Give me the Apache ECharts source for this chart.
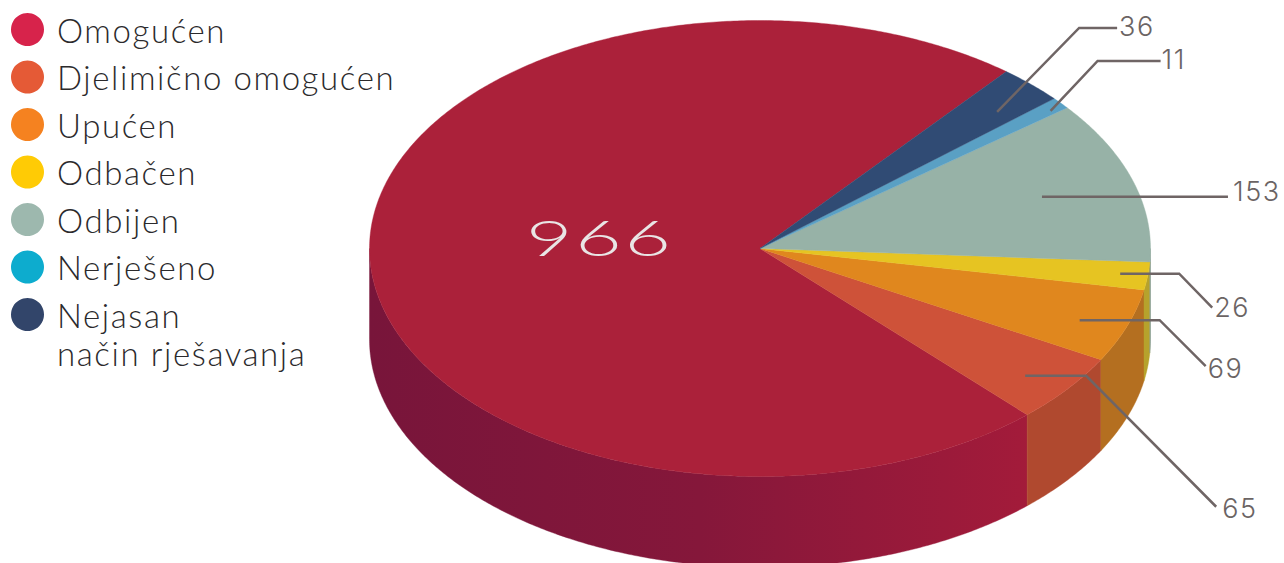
<!DOCTYPE html>
<html>
<head>
<meta charset="utf-8">
<style>
html,body{margin:0;padding:0;background:#fff;overflow:hidden}
#c{width:1284px;height:563px}
#c text{letter-spacing:1.6px}
</style>
<script src="https://cdn.jsdelivr.net/npm/echarts@6/dist/echarts.min.js"></script>
</head>
<body>
<div id="c"></div>
<script>
// Data
var categories = ['Omogućen','Djelimično omogućen','Upućen','Odbačen','Odbijen','Nerješeno','Nejasan'];
var values = [966,65,69,26,153,11,36];
var legendColors = ['#D7234B','#E55A36','#F58220','#FFCB05','#9DB8AE','#0DACCE','#32456A'];
var topColors = ['#AB213A','#CE5239','#E0871E','#E6C422','#97B2A7','#5AA0C4','#304B74'];
var sideColors = ['#A31B3A','#B0492F','#B46F20','#B6A22C','#7f958c','#4a86a5','#2b4265'];

// Layout of the tilted disc
var CX = 760, CY = 248.5, RX = 390.5, RY = 228, DEPTH = 91, START = 50.9;
var FONT = 'Lato', NUMFONT = 'Inter';
var TEXT = '#6B6464';
// Leader lines: anchor in its slice (angle offset from the slice middle, radial fraction),
// bends relative to the anchor, label position relative to the last bend
var leaders = [
  null,
  {da:-1.4, f:.879, bends:[[61,0],[191,131]],   label:[6,2]},
  {da:-1.2, f:.877, bends:[[80,0],[126,46]],    label:[2,2]},
  {da: 0.1, f:.929, bends:[[59,0],[92,34]],     label:[2,0]},
  {da: 0.1, f:.757, bends:[[186,0]],            label:[5,-5]},
  {da:-0.6, f:.958, bends:[[47,-50],[110,-50]], label:[1,-1]},
  {da:-1.4, f:.853, bends:[[82,-84],[120,-84]], label:[2,-1]}
];

var total = values.reduce(function(a,b){return a+b;},0);
function pt(deg, f, dy){
  var a = deg*Math.PI/180;
  return [CX + RX*f*Math.cos(a), CY - RY*f*Math.sin(a) + (dy||0)];
}
function arc(a0, a1, f, dy){
  var out = [], n = Math.max(2, Math.ceil(Math.abs(a1-a0)/0.5));
  for (var i=0;i<=n;i++) out.push(pt(a0+(a1-a0)*i/n, f, dy));
  return out;
}
function sliceStart(idx){
  var s = 0;
  for (var i=0;i<idx;i++) s += values[i];
  return START + s/total*360;
}
function textEl(str,x,y,size,fill,family,weight,extra){
  var el = {type:'text', x:x, y:y, z2:101, silent:true,
    style:{text:str, fill:fill, fontFamily:family, fontWeight:weight, fontSize:size, align:'left', verticalAlign:'middle'}};
  for (var k in extra) el[k] = extra[k];
  return el;
}

function render(idx){
  return function(params, api){
    var v = api.value(0);
    var a0 = sliceStart(idx), a1 = a0 + v/total*360;
    var children = [];
    // side wall: only the front half (180..360 modulo 360) is visible
    var ranges = [[180,360],[540,720]];
    ranges.forEach(function(r){
      var s = Math.max(a0,r[0]), e = Math.min(a1,r[1]);
      if (e > s){
        var top = arc(s,e,1,0), bot = arc(e,s,1,DEPTH);
        var fill = sideColors[idx];
        if (idx === 0){
          fill = new echarts.graphic.LinearGradient(CX-RX,0,CX+RX*0.69,0,[
            {offset:0,color:'#78153A'},{offset:.5,color:'#85173A'},{offset:1,color:sideColors[0]}],true);
        }
        children.push({type:'polygon', z2:0, silent:true, shape:{points:top.concat(bot)},
          style:{fill:fill, stroke:fill, lineWidth:0.4}});
      }
    });
    // top face
    children.push({type:'polygon', z2:1, silent:true,
      shape:{points:[pt(0,0)].concat(arc(a0,a1,1,0))},
      style:{fill:topColors[idx], stroke:topColors[idx], lineWidth:0.4}});
    // leader and label
    var l = leaders[idx], mid = (a0+a1)/2;
    if (l){
      var p0 = pt(mid+l.da,l.f), pts = [p0];
      l.bends.forEach(function(b){ pts.push([p0[0]+b[0], p0[1]+b[1]]); });
      var last = pts[pts.length-1];
      children.push({type:'polyline', z2:100, silent:true, shape:{points:pts},
        style:{stroke:'#6F6565', lineWidth:2.5, fill:null}});
      children.push(textEl(String(v), last[0]+l.label[0], last[1]+l.label[1], 27, TEXT, NUMFONT, 300));
    } else {
      children.push(textEl(String(v), CX-234, CY-12, 46, '#E9E5E5', FONT, 300, {scaleX:1.74, scaleY:1.08}));
    }
    return {type:'group', children:children};
  };
}

var series = categories.map(function(name,i){
  return {
    type:'custom', name:name, coordinateSystem:'none', silent:true, animation:false,
    itemStyle:{color:legendColors[i]},
    data:[[values[i]]],
    renderItem:render(i)
  };
});

var chart = echarts.init(document.getElementById('c'), null, {renderer:'svg'});
chart.setOption({
  animation:false,
  backgroundColor:'#fff',
  legend:{
    left:11, top:13, padding:0, orient:'vertical', selectedMode:false,
    itemWidth:33, itemHeight:33, itemGap:14.5, icon:'circle',
    data:categories,
    textStyle:{color:'#2B2A2C', fontFamily:FONT, fontWeight:300, fontSize:33, padding:[0,0,0,8]}
  },
  graphic:[{type:'text', left:57, top:336, silent:true,
    style:{text:'način rješavanja', fill:'#2B2A2C', fontFamily:FONT, fontWeight:300, fontSize:33}}],
  series:series
});
</script>
</body>
</html>
